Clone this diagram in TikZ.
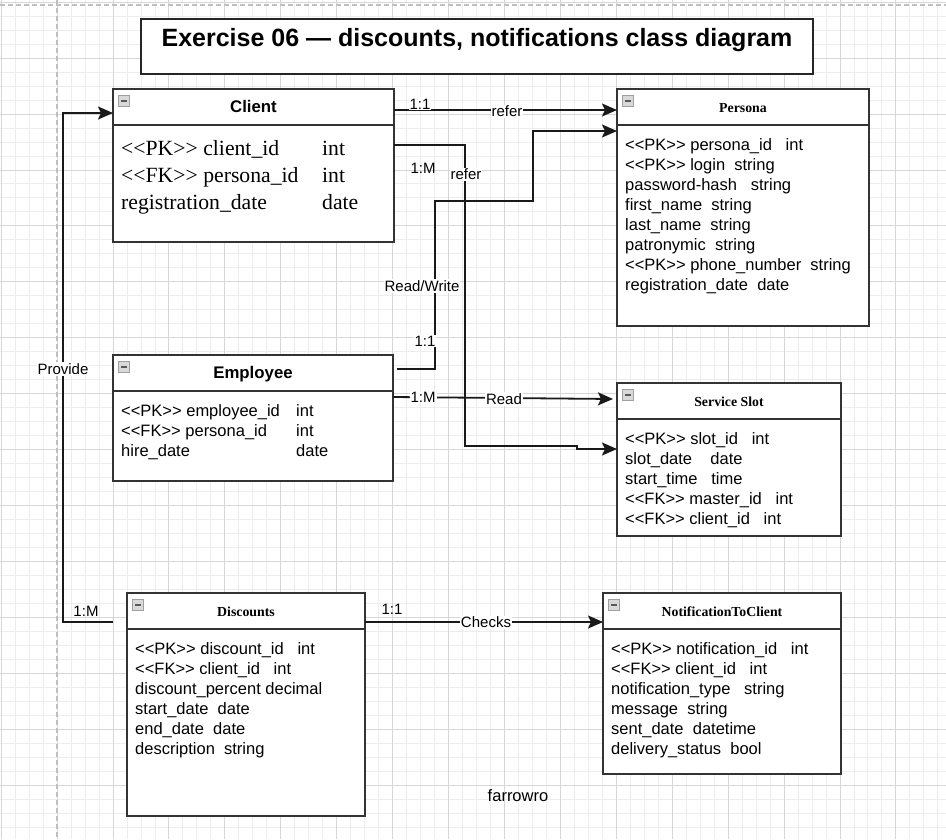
\documentclass[tikz,border=0pt]{standalone}
\usepackage{fontspec}
\setmainfont{Liberation Serif}
\setsansfont{Liberation Sans}
\usetikzlibrary{arrows.meta}
\newcommand\pk{<\kern0pt<PK>\kern0pt>}
\newcommand\fk{<\kern0pt<FK>\kern0pt>}

\begin{document}
\begin{tikzpicture}[x=1pt,y=-1pt,
  minorgrid/.style={gray!14,line width=0.7pt},
  majorgrid/.style={gray!32,line width=0.7pt},
  pageline/.style={gray!50,line width=1.6pt,dash pattern=on 5pt off 3pt},
  classbox/.style={draw=black!80,fill=white,line width=1.6pt,inner sep=0pt,outer sep=0pt,anchor=north west},
  headsans/.style={font={\sffamily\bfseries\fontsize{16.8}{20}\selectfont},anchor=base},
  headserif/.style={font={\rmfamily\bfseries\fontsize{13.8}{16}\selectfont},anchor=base},
  attr/.style={font={\sffamily\fontsize{16.5}{20}\selectfont},anchor=base west,inner sep=0pt},
  attrserif/.style={font={\rmfamily\fontsize{21.7}{27}\selectfont},anchor=base west,inner sep=0pt},
  lbl/.style={font={\sffamily\fontsize{15}{18}\selectfont},fill=white,inner sep=1pt},
  conn/.style={black!90,line width=1.8pt,-{Stealth[length=15pt,width=13pt,inset=3pt]}},
  icon/.style={draw=gray!75,fill=gray!30,line width=0.8pt,minimum size=11pt,inner sep=0pt,
    path picture={\fill[black!65] ([xshift=2.5pt,yshift=-1pt]path picture bounding box.west)
      rectangle ([xshift=-2.5pt,yshift=1pt]path picture bounding box.east);}}
]
% canvas and grid
\fill[white] (0,0) rectangle (946,839);
\useasboundingbox (0,0) rectangle (946,839);
\foreach \i in {-4,...,63} \draw[minorgrid] ({57+13.98*\i},0) -- ++(0,839);
\foreach \i in {0,...,59} \draw[minorgrid] (0,{2.1+13.98*\i}) -- ++(946,0);
\foreach \i in {-1,...,16} \draw[majorgrid] ({57+55.92*\i},0) -- ++(0,839);
\foreach \i in {0,...,15} \draw[majorgrid] (0,{2.1+55.92*\i}) -- ++(946,0);
\draw[pageline] (57,0) -- (57,839);
\draw[pageline] (0,5) -- (946,5);

% title
\node[draw=black!85,line width=1.4pt,fill=white,minimum width=672pt,minimum height=55pt,inner sep=0pt] (title) at (477,46.5) {};
\node[font={\sffamily\bfseries\fontsize{25}{30}\selectfont},anchor=base] (titletext) at (477,46) {Exercise 06 — discounts, notifications class diagram};

% class boxes
\node[classbox,minimum width=281pt,minimum height=153pt] (client) at (113,89) {};
\node[classbox,minimum width=252pt,minimum height=237pt] (persona) at (617,89) {};
\node[classbox,minimum width=280pt,minimum height=126pt] (employee) at (113,355) {};
\node[classbox,minimum width=224pt,minimum height=153pt] (slot) at (617,383) {};
\node[classbox,minimum width=238pt,minimum height=223pt] (discounts) at (127,593) {};
\node[classbox,minimum width=238pt,minimum height=181pt] (notify) at (603,593) {};

\foreach \b in {client,persona,employee,slot,discounts,notify} {
  \draw[black!80,line width=1.6pt] ([yshift=-36pt]\b.north west) -- ([yshift=-36pt]\b.north east);
  \node[icon] (\b-icon) at ([xshift=11pt,yshift=-12pt]\b.north west) {};
}

\node[headsans] (client-name) at ([yshift=-23.5pt]client.north) {Client};
\node[headserif] (persona-name) at ([yshift=-23pt]persona.north) {Persona};
\node[headsans] (employee-name) at ([yshift=-23.5pt]employee.north) {Employee};
\node[headserif] (slot-name) at ([yshift=-23pt]slot.north) {Service Slot};
\node[headserif] (discounts-name) at ([yshift=-23pt]discounts.north) {Discounts};
\node[headserif] (notify-name) at ([yshift=-23pt]notify.north) {NotificationToClient};

% attributes
\foreach \n/\t [count=\i from 0] in {{\pk~client\_id}/int,{\fk~persona\_id}/int,registration\_date/date} {
  \node[attrserif] (client-a\i) at ([xshift=8pt,yshift={-66pt-27pt*\i}]client.north west) {\n};
  \node[attrserif] (client-t\i) at ([xshift=209pt,yshift={-66pt-27pt*\i}]client.north west) {\t};
}
\foreach \t [count=\i from 0] in {{\pk~persona\_id~~~int},{\pk~login~~string},password-hash~~~string,
    first\_name~~string,last\_name~~string,patronymic~~string,{\pk~phone\_number~~string},registration\_date~~date}
  \node[attr] (persona-a\i) at ([xshift=8pt,yshift={-61pt-20pt*\i}]persona.north west) {\t};
\foreach \n/\t [count=\i from 0] in {{\pk~employee\_id}/int,{\fk~persona\_id}/int,hire\_date/date} {
  \node[attr] (employee-a\i) at ([xshift=8pt,yshift={-61pt-20pt*\i}]employee.north west) {\n};
  \node[attr] (employee-t\i) at ([xshift=183pt,yshift={-61pt-20pt*\i}]employee.north west) {\t};
}
\foreach \t [count=\i from 0] in {{\pk~slot\_id~~~int},slot\_date~~~~date,start\_time~~~time,
    {\fk~master\_id~~~int},{\fk~client\_id~~~int}}
  \node[attr] (slot-a\i) at ([xshift=8pt,yshift={-61pt-20pt*\i}]slot.north west) {\t};
\foreach \t [count=\i from 0] in {{\pk~discount\_id~~~int},{\fk~client\_id~~~int},discount\_percent~decimal,
    start\_date~~date,end\_date~~date,description~~string}
  \node[attr] (discounts-a\i) at ([xshift=8pt,yshift={-61pt-20pt*\i}]discounts.north west) {\t};
\foreach \t [count=\i from 0] in {{\pk~notification\_id~~~int},{\fk~client\_id~~~int},notification\_type~~~string,
    message~~string,sent\_date~~datetime,delivery\_status~~bool}
  \node[attr] (notify-a\i) at ([xshift=8pt,yshift={-61pt-20pt*\i}]notify.north west) {\t};

% connectors
\draw[conn] ([yshift=-21pt]client.north east) coordinate (c1) -- (c1 -| persona.west);
\draw[conn] ([yshift=-56pt]client.north east) -| (465,446) -- (577,446) |- ([yshift=-66pt]slot.north west);
\draw[conn] ([xshift=4pt,yshift=-14pt]employee.north east) -| (435,201) -| (533,131) -- ([yshift=-42pt]persona.north west);
\draw[conn] ([yshift=-42pt]employee.north east) -- ([xshift=-4pt,yshift=-16pt]slot.north west);
\draw[conn] ([xshift=-14pt,yshift=-29pt]discounts.north west) -| (63,113) -- ([yshift=-24pt]client.north west);
\draw[conn] ([yshift=-29pt]discounts.north east) -- ([yshift=-29pt]notify.north west);

% connector labels
\node[lbl] (l-11a) at (420,104) {1:1};
\node[lbl] (l-refer1) at (507,111) {refer};
\node[lbl,fill=none] (l-1ma) at (423,168) {1:M};
\node[lbl] (l-refer2) at (466,174) {refer};
\node[lbl] (l-rw) at (422,286) {Read/Write};
\node[lbl] (l-11b) at (425,341) {1:1};
\node[lbl] (l-1mb) at (423,397) {1:M};
\node[lbl] (l-read) at (504,399) {Read};
\node[lbl] (l-provide) at (63,369) {Provide};
\node[lbl,fill=none] (l-1mc) at (86,611) {1:M};
\node[lbl,fill=none] (l-11c) at (392,609) {1:1};
\node[lbl] (l-checks) at (486,622) {Checks};
\node[font={\sffamily\fontsize{16.5}{20}\selectfont}] (author) at (518,796) {farrowro};
\end{tikzpicture}
\end{document}
